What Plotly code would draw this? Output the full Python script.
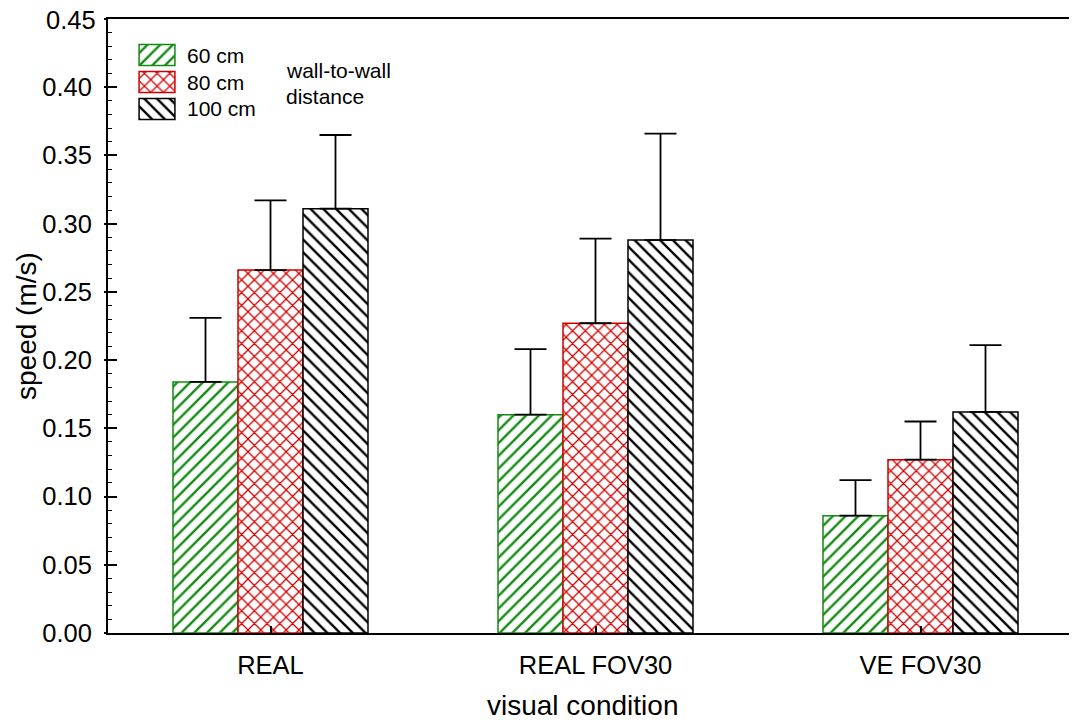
import plotly.graph_objects as go

categories = ["REAL", "REAL FOV30", "VE FOV30"]
series_names = ["60 cm", "80 cm", "100 cm"]
speed_60 = [0.184, 0.160, 0.086]
speed_80 = [0.266, 0.227, 0.127]
speed_100 = [0.311, 0.288, 0.162]
err_60 = [0.047, 0.048, 0.026]
err_80 = [0.051, 0.062, 0.028]
err_100 = [0.054, 0.078, 0.049]
y_ticks = [0.00, 0.05, 0.10, 0.15, 0.20, 0.25, 0.30, 0.35, 0.40, 0.45]

values = [speed_60, speed_80, speed_100]
errors = [err_60, err_80, err_100]
colors = ["#138a13", "#d00000", "#000000"]
shapes_p = ["/", "x", "\\"]

FONT = "Liberation Sans, Arial, sans-serif"
W, H = 1077, 720
OFF = 8  # page body margin
L, R, T, B = 100, 2, 11, 95
pw, ph = W - L - R, H - T - B

def px_x(x):
    return (x - OFF - L) / pw

def px_y(y):
    return (H - B - (y - OFF)) / ph

PAT = dict(bgcolor="white", size=9, solidity=0.26, fgopacity=1)

fig = go.Figure()
xi = list(range(len(categories)))
for name, vals, errs, col, shp in zip(series_names, values, errors, colors, shapes_p):
    fig.add_trace(go.Bar(
        x=xi, y=vals, name=name, showlegend=False,
        marker=dict(color="white", line=dict(color=col, width=1.5),
                    pattern=dict(shape=shp, fgcolor=col, **PAT)),
        error_y=dict(type="data", array=errs, arrayminus=[0] * len(errs), symmetric=False,
                     color="black", thickness=1.8, width=16),
    ))

# legend swatches drawn as bars on a small helper axis
fig.add_trace(go.Bar(
    x=[1, 1, 1], y=[0, 1, 2], base=0, orientation="h", width=0.78,
    xaxis="x2", yaxis="y2", showlegend=False, hoverinfo="skip",
    marker=dict(color="white", line=dict(color=colors, width=1.5),
                pattern=dict(shape=shapes_p, fgcolor=colors, **PAT)),
))

# left outside tick stubs and right mirrored ticks
fig.add_trace(go.Scatter(x=[0], y=[0], yaxis="y3", mode="markers", marker=dict(opacity=0),
                         showlegend=False, hoverinfo="skip"))
fig.add_trace(go.Scatter(x=[0], y=[0], yaxis="y4", mode="markers", marker=dict(opacity=0),
                         showlegend=False, hoverinfo="skip"))

TICK_FS = 25.5
yrange = [0, 0.45]
fig.update_layout(
    width=W, height=H,
    margin=dict(l=L, r=R, t=T, b=B),
    paper_bgcolor="white", plot_bgcolor="white",
    font=dict(family=FONT, color="black"),
    barmode="group", bargap=0.4, bargroupgap=0,
    xaxis=dict(range=[-0.5, 2.5], tickmode="array", tickvals=xi, ticktext=categories,
               showgrid=False, zeroline=False, showline=True, linecolor="black", linewidth=2,
               mirror=True, ticks="inside", ticklen=7, tickwidth=1.5, tickcolor="black",
               tickfont=dict(size=TICK_FS), ticklabelstandoff=8),
    yaxis=dict(range=yrange, tickmode="array", tickvals=y_ticks,
               ticktext=[f"{v:.2f}" if v < 0.449 else "" for v in y_ticks],
               showgrid=False, zeroline=False, showline=True, linecolor="black", linewidth=2,
               ticks="inside", ticklen=9, tickwidth=1.5, tickcolor="black",
               tickfont=dict(size=TICK_FS), ticklabelstandoff=9,
               minor=dict(dtick=0.01, tick0=0, ticks="inside", ticklen=4, tickwidth=1.2,
                          tickcolor="black", showgrid=False)),
    yaxis3=dict(range=yrange, overlaying="y", side="left", tickmode="array", tickvals=y_ticks,
                showticklabels=False, showgrid=False, zeroline=False, showline=False,
                ticks="outside", ticklen=3, tickwidth=1.5, tickcolor="black"),
    yaxis4=dict(range=yrange, overlaying="y", side="right", tickmode="array", tickvals=y_ticks,
                showticklabels=False, showgrid=False, zeroline=False, showline=False,
                ticks="inside", ticklen=11, tickwidth=1.5, tickcolor="black"),
    xaxis2=dict(domain=[px_x(138), px_x(176)], anchor="y2", range=[-0.03, 1.03],
                visible=False, fixedrange=True),
    yaxis2=dict(domain=[px_y(122.5), px_y(41.5)], anchor="x2", range=[2.5, -0.5],
                visible=False, fixedrange=True),
)

# top tick label (kept as text so it is not dropped at the figure edge)
fig.add_annotation(x=px_x(98), y=px_y(20), xref="paper", yref="paper", text=f"{y_ticks[-1]:.2f}",
                   showarrow=False, xanchor="right", yanchor="middle",
                   font=dict(size=TICK_FS, family=FONT))

legend_y = [55, 82, 109]
for name, yy in zip(series_names, legend_y):
    fig.add_annotation(x=px_x(185), y=px_y(yy), xref="paper", yref="paper", text=name,
                       showarrow=False, xanchor="left", yanchor="middle",
                       font=dict(size=21, family=FONT))
fig.add_annotation(x=px_x(284), y=px_y(70), xref="paper", yref="paper", text="wall-to-wall",
                   showarrow=False, xanchor="left", yanchor="middle", font=dict(size=21, family=FONT))
fig.add_annotation(x=px_x(284), y=px_y(97), xref="paper", yref="paper", text="distance",
                   showarrow=False, xanchor="left", yanchor="middle", font=dict(size=21, family=FONT))

# axis titles
fig.add_annotation(x=px_x(26), y=px_y(326), xref="paper", yref="paper", text="speed (m/s)",
                   showarrow=False, textangle=-90, xanchor="center", yanchor="middle",
                   font=dict(size=28, family=FONT))
fig.add_annotation(x=px_x(582), y=px_y(705), xref="paper", yref="paper", text="visual condition",
                   showarrow=False, xanchor="center", yanchor="middle",
                   font=dict(size=28, family=FONT))

fig.write_html("out.html")
